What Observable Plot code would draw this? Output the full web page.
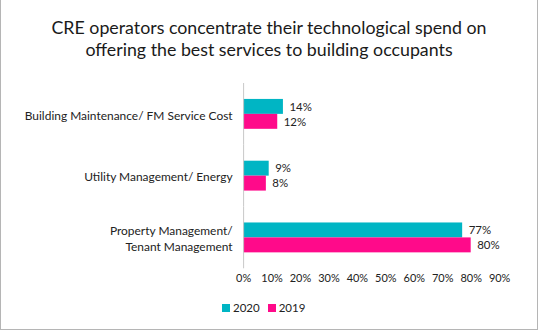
<!DOCTYPE html>
<html>
<head>
<meta charset="utf-8">
<script src="https://cdn.jsdelivr.net/npm/d3@7"></script>
<script src="https://cdn.jsdelivr.net/npm/@observablehq/plot@0.6"></script>
<style>
  html, body { margin: 0; padding: 0; background: #fff; }
  #frame {
    position: relative; width: 538px; height: 330px; box-sizing: border-box;
    border: 1px solid #b5b5b5; border-top: none; background: #fff;
    font-family: Lato, "Open Sans", sans-serif; color: #222; overflow: hidden;
  }
  #title {
    position: absolute; left: 0; top: 16px; width: 536px; text-align: center;
    font-size: 17.8px; line-height: 22px; color: #1a1a1a;
  }
  #chart { position: absolute; left: 0; top: 80px; }
  #legend {
    position: absolute; left: 221px; top: 300px; font-size: 11.5px; line-height: 16px;
    display: flex; align-items: center; color: #222;
  }
  .sw { display: inline-block; width: 8px; height: 8px; margin-right: 3px; }
  .item { display: flex; align-items: center; margin-right: 8px; }
</style>
</head>
<body>
<div id="frame">
  <div id="title">CRE operators concentrate their technological spend on<br>offering the best services to building occupants</div>
  <div id="chart"></div>
  <div id="legend"></div>
</div>
<script>
const categories = [
  "Building Maintenance/ FM Service Cost",
  "Utility Management/ Energy",
  "Property Management/\nTenant Management"
];
const years = ["2020", "2019"];
const values2020 = [14, 9, 77];
const values2019 = [12, 8, 80];
const xTicks = [0, 10, 20, 30, 40, 50, 60, 70, 80, 90];
const colors = ["#00B5C4", "#FF0A8A"];

const data = [];
categories.forEach((c, i) => {
  data.push({category: c, year: years[0], value: values2020[i]});
  data.push({category: c, year: years[1], value: values2019[i]});
});

const chart = Plot.plot({
  width: 538,
  height: 214,
  marginTop: 3,
  marginBottom: 25,
  marginLeft: 243,
  marginRight: 38,
  style: {fontFamily: "Lato, 'Open Sans', sans-serif", fontSize: "11px", color: "#222", background: "transparent"},
  x: {domain: [0, 90], ticks: xTicks, tickFormat: d => d + "%", tickSize: 0, tickPadding: 5, label: null},
  y: {domain: years, axis: null, paddingInner: 0, paddingOuter: 0.94},
  fy: {domain: categories, axis: null, padding: 0},
  color: {domain: years, range: colors},
  marks: [
    Plot.barX(data, {x: "value", y: "year", fy: "category", fill: "year"}),
    Plot.ruleX([0], {stroke: "#c8c8c8", strokeWidth: 1}),
    Plot.text(data, {x: "value", y: "year", fy: "category", text: d => d.value + "%", textAnchor: "start", dx: 6, fill: "#222", fontSize: 11.5}),
    Plot.text(categories, {fy: d => d, text: d => d, frameAnchor: "left", textAnchor: "end", dx: -11, lineHeight: 1.35, fill: "#222", fontSize: 12})
  ]
});
document.getElementById("chart").appendChild(chart);

const legend = document.getElementById("legend");
years.forEach((y, i) => {
  const item = document.createElement("span");
  item.className = "item";
  item.innerHTML = `<span class="sw" style="background:${colors[i]}"></span>${y}`;
  legend.appendChild(item);
});
</script>
</body>
</html>
